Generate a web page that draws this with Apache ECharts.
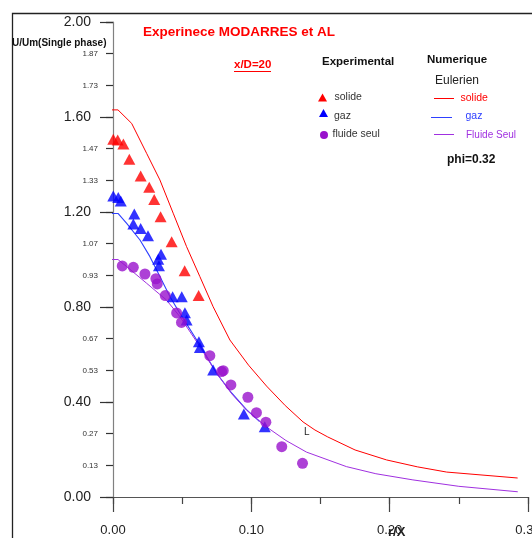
<!DOCTYPE html>
<html>
<head>
<meta charset="utf-8">
<script src="https://cdn.jsdelivr.net/npm/echarts@6/dist/echarts.min.js"></script>
<style>html,body{margin:0;padding:0;background:#fff}#c{width:532px;height:538px}</style>
</head>
<body>
<div id="c"></div>
<script>
// Experimental points (r/X, U/Um)
const solideExpR = [0.0002,0.0034,0.0075,0.0118,0.020,0.0262,0.0298,0.0344,0.0424,0.0518,0.0619];
const solideExpU = [1.506,1.503,1.486,1.422,1.352,1.304,1.253,1.180,1.075,0.953,0.848];
const gazExpR = [0.0002,0.0038,0.0056,0.0154,0.0147,0.020,0.0253,0.0347,0.0327,0.0332,0.0431,0.0497,0.052,0.0532,0.0621,0.0628,0.0724,0.0946,0.1097];
const gazExpU = [1.267,1.261,1.246,1.192,1.149,1.131,1.100,1.022,1.001,0.974,0.843,0.843,0.776,0.745,0.654,0.630,0.535,0.349,0.296];
const fluideExpR = [0.0067,0.0147,0.0231,0.031,0.032,0.0378,0.046,0.0495,0.070,0.0785,0.0797,0.0852,0.0975,0.1037,0.1105,0.122,0.137];
const fluideExpU = [0.973,0.967,0.939,0.919,0.897,0.848,0.775,0.735,0.595,0.528,0.532,0.472,0.42,0.355,0.315,0.212,0.142];
// Numerical (Eulerien) curves
const solideNumR = [-0.007,0.0036,0.0135,0.0243,0.0339,0.0435,0.0532,0.0628,0.0724,0.0845,0.098,0.111,0.1245,0.1374,0.146,0.1552,0.175,0.1978,0.22,0.2412,0.2925];
const solideNumU = [1.63,1.63,1.573,1.447,1.335,1.195,1.054,0.928,0.801,0.661,0.555,0.467,0.385,0.316,0.282,0.253,0.198,0.156,0.127,0.105,0.08];
const gazNumR = [-0.007,0.0036,0.0099,0.0195,0.0267,0.0339,0.0412,0.0484,0.0628,0.0749,0.0859,0.0965,0.106];
const gazNumU = [1.194,1.194,1.152,1.082,1.012,0.928,0.843,0.773,0.64,0.521,0.437,0.368,0.318];
const fluideNumR = [-0.007,0.0036,0.0099,0.0243,0.0387,0.0484,0.0615,0.0749,0.0859,0.0965,0.111,0.125,0.1399,0.1687,0.19,0.2168,0.25,0.2926];
const fluideNumU = [1.0,1.0,0.970,0.90,0.829,0.759,0.645,0.521,0.434,0.366,0.295,0.238,0.189,0.128,0.098,0.072,0.045,0.022];
// Axis ticks
const xMajorStep = 0.1, xMinorStep = 0.05, xMin = 0, xMax = 0.3;
const yMajorStep = 0.4, yMinorStep = 0.4/3, yMin = 0, yMax = 2.0;

const pairs = (a, b) => a.map((v, i) => [v, b[i]]);
const FF = '"Liberation Sans", Arial, sans-serif';
const RED = '#ff0000', BLUE = '#0000ff', BLUEL = '#2e40ff', PURP = '#9912cc', PURPL = '#a030e0';

const chart = echarts.init(document.getElementById('c'), null, {renderer: 'canvas'});
const isMajorY = v => Math.abs(v / yMajorStep - Math.round(v / yMajorStep)) < 1e-6;

function txt(text, x, y, size, color, weight, align) {
  return {type: 'text', silent: true, z: 100,
    style: {text: text, x: x, y: y, fontSize: size, fontFamily: FF, fontWeight: weight || 'normal',
      fill: color, textAlign: align || 'left', textVerticalAlign: 'middle', align: align || 'left', verticalAlign: 'middle'}};
}
function hbar(x1, x2, y, color) {
  return {type: 'rect', silent: true, z: 100, shape: {x: x1, y: y, width: x2 - x1, height: 1}, style: {fill: color}};
}

chart.setOption({
  animation: false,
  backgroundColor: '#fff',
  grid: {left: 113, top: 22, width: 415, height: 475, containLabel: false, outerBoundsMode: 'none'},
  xAxis: [
    {type: 'value', min: xMin, max: xMax, interval: xMajorStep, position: 'bottom',
     axisLine: {show: true, lineStyle: {color: '#555', width: 1.2}},
     axisTick: {show: true, length: 15, lineStyle: {color: '#444', width: 1.2}},
     axisLabel: {show: true, margin: 27, fontSize: 13, fontFamily: FF, color: '#222', formatter: v => v.toFixed(2)},
     splitLine: {show: false}},
    {type: 'value', min: xMin, max: xMax, interval: xMinorStep, position: 'bottom', offset: 0,
     axisLine: {show: false}, axisTick: {show: true, length: 7, lineStyle: {color: '#444', width: 1.2}},
     axisLabel: {show: false}, splitLine: {show: false}}
  ],
  yAxis: [
    {type: 'value', min: yMin, max: yMax, interval: yMajorStep, position: 'left',
     axisLine: {show: true, lineStyle: {color: '#808080', width: 1.2}},
     axisTick: {show: true, length: 13, lineStyle: {color: '#333', width: 1.2}},
     axisLabel: {show: true, margin: 22, fontSize: 14, fontFamily: FF, color: '#222', formatter: v => v.toFixed(2)},
     splitLine: {show: false}},
    {type: 'value', min: yMin, max: yMax, interval: yMinorStep, position: 'left', offset: 0,
     axisLine: {show: false}, axisTick: {show: true, length: 7, lineStyle: {color: '#333', width: 1.2}},
     axisLabel: {show: true, margin: 15, fontSize: 8, fontFamily: FF, color: '#333',
       formatter: v => isMajorY(v) ? '' : v.toFixed(2)},
     splitLine: {show: false}}
  ],
  series: [
    {type: 'line', name: 'solide num', data: pairs(solideNumR, solideNumU), showSymbol: false, clip: false,
     lineStyle: {color: RED, width: 1}, silent: true, z: 3},
    {type: 'line', name: 'gaz num', data: pairs(gazNumR, gazNumU), showSymbol: false, clip: false,
     lineStyle: {color: BLUEL, width: 1.1}, silent: true, z: 3},
    {type: 'line', name: 'fluide num', data: pairs(fluideNumR, fluideNumU), showSymbol: false, clip: false,
     lineStyle: {color: PURPL, width: 1}, silent: true, z: 4},
    {type: 'scatter', name: 'solide exp', data: pairs(solideExpR, solideExpU), symbol: 'triangle', symbolSize: [12, 11],
     itemStyle: {color: RED}, silent: true, z: 5},
    {type: 'scatter', name: 'gaz exp', data: pairs(gazExpR, gazExpU), symbol: 'triangle', symbolSize: [12, 11],
     itemStyle: {color: BLUE}, silent: true, z: 5},
    {type: 'scatter', name: 'fluide exp', data: pairs(fluideExpR, fluideExpU), symbol: 'circle', symbolSize: 11,
     itemStyle: {color: PURP}, silent: true, z: 5}
  ],
  graphic: [
    {type: 'rect', silent: true, z: 0, shape: {x: 12.5, y: 13.5, width: 700, height: 700},
     style: {fill: 'none', stroke: '#222', lineWidth: 1.3}},
    txt('U/Um(Single phase)', 12, 43, 10, '#111', 'bold'),
    txt('Experinece MODARRES et AL', 143, 32, 13.5, RED, 'bold'),
    txt('x/D=20', 234, 65, 11.5, RED, 'bold'),
    hbar(234, 271, 71, RED),
    txt('Experimental', 322, 62, 11.5, '#111', 'bold'),
    txt('Numerique', 427, 60, 11.5, '#111', 'bold'),
    txt('Eulerien', 435, 81, 12, '#222', 'normal'),
    {type: 'polygon', silent: true, z: 100, shape: {points: [[318, 101.5], [327, 101.5], [322.5, 93.5]]}, style: {fill: RED}},
    txt('solide', 334.5, 97.5, 10.5, '#333'),
    {type: 'polygon', silent: true, z: 100, shape: {points: [[319, 117], [328, 117], [323.5, 109]]}, style: {fill: BLUE}},
    txt('gaz', 334, 116, 10.5, '#333'),
    {type: 'circle', silent: true, z: 100, shape: {cx: 324, cy: 135, r: 4}, style: {fill: PURP}},
    txt('fluide seul', 332.5, 134.5, 10.5, '#333'),
    hbar(434, 454, 98, RED),
    txt('solide', 460.5, 98.5, 10.5, RED),
    hbar(431, 452, 117, BLUEL),
    txt('gaz', 465.5, 116.5, 10.5, BLUEL),
    hbar(434, 454, 134, PURPL),
    txt('Fluide Seul', 466, 135, 10, PURPL),
    txt('phi=0.32', 447, 160, 12, '#111', 'bold'),
    txt('L', 304, 432, 10, '#222'),
    txt('r/X', 388, 532, 13, '#222', 'bold')
  ]
});
</script>
</body>
</html>
